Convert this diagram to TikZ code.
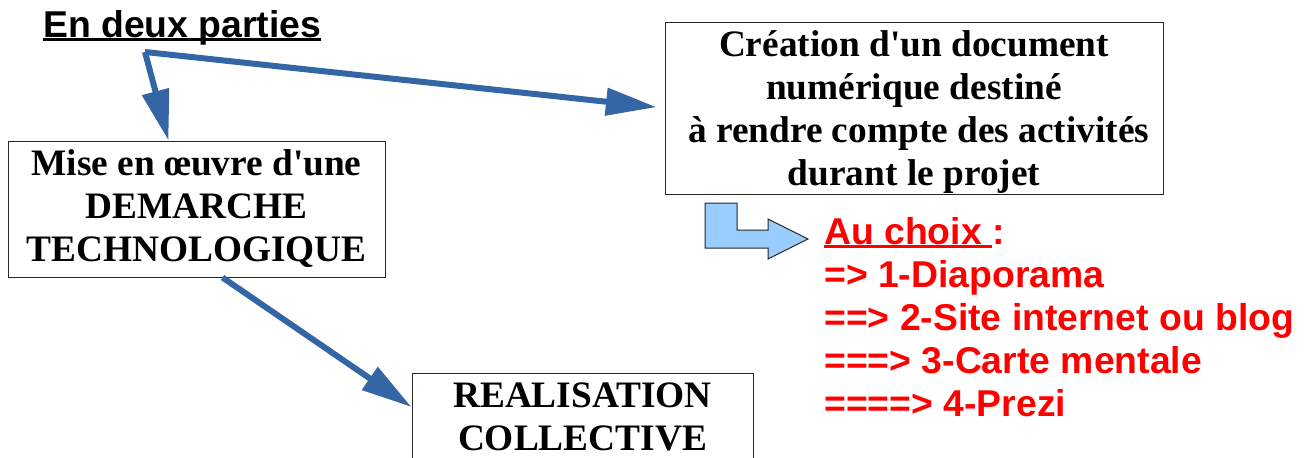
\documentclass[tikz,border=0pt]{standalone}
\usepackage{fontspec}
\setmainfont{Liberation Serif}
\newfontfamily\sansgras{Liberation Sans}
\usetikzlibrary{positioning, calc, arrows.meta}

\definecolor{bleufleche}{HTML}{3465A4}
\definecolor{bleuclair}{HTML}{99CCFF}
\newcommand{\souligne}[1]{\setbox0\hbox{#1}\rlap{\rule[-0.11em]{\wd0}{0.08em}}\box0}
\newcommand{\apos}{\textquotesingle}

\tikzset{
  boite/.style={draw=black!85, line width=0.75pt, align=center, inner sep=0pt,
    font=\bfseries\fontsize{28}{32.25}\selectfont},
  fleche/.style={draw=bleufleche, line width=4.5pt, -{Triangle[length=38pt,width=20pt]}},
  choix/.style={text=red, align=left, inner sep=0pt,
    font=\sansgras\bfseries\fontsize{28}{32.25}\selectfont}
}

\begin{document}
\begin{tikzpicture}[x=0.75pt, y=-0.75pt]
  \useasboundingbox (0,0) rectangle (1310,457);
  % titre
  \node[anchor=base west, inner sep=0pt, font=\sansgras\bfseries\fontsize{28}{32.25}\selectfont] (titre) at (43,37) {\souligne{En deux parties}};
  \coordinate (fourche) at (145,52);
  % les trois boites
  \node[boite, minimum width=282.75pt, minimum height=102pt] (mise) at (196.5,209) {Mise en \oe uvre d\apos une\\DEMARCHE\\TECHNOLOGIQUE};
  \node[boite, minimum width=373.5pt, minimum height=129pt, text depth=0pt] (doc) at (914,108) {Cr\'eation d\apos un document\\num\'erique destin\'e\\~\`a rendre compte des activit\'es\\durant le projet};
  \node[boite, anchor=north, minimum width=255.75pt, inner ysep=6.75pt, text depth=20pt] (real) at (582.5,373) {REALISATION\\COLLECTIVE};
  % fleches
  \draw[fleche] (fourche) -- ([xshift=-21pt]mise.north);
  \draw[fleche, shorten >=6pt] (fourche) -- (doc.west);
  \draw[fleche] ([xshift=19.5pt]mise.south) -- ([yshift=-25.5pt]real.north west);
  % fleche coudee bleu clair
  \draw[black!85, line width=0.75pt, fill=bleuclair] (705,203) -- (737,203) -- (737,230) -- (768,230) -- (768,219) -- (808,239) -- (768,259) -- (768,248) -- (705,248) -- cycle;
  % liste des choix
  \node[choix, anchor=north west] (liste) at (824,217) {\souligne{Au choix }:\\=> 1-Diaporama\\==> 2-Site internet ou blog\\===> 3-Carte mentale\\====> 4-Prezi};
\end{tikzpicture}
\end{document}
